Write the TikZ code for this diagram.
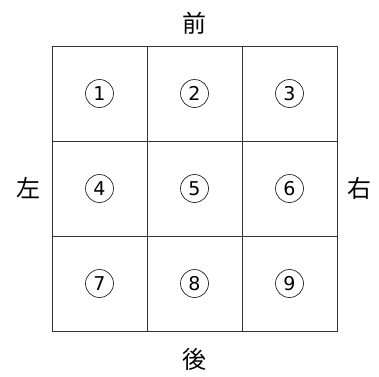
\documentclass[tikz,border=0pt]{standalone}
\usepackage{fontspec}
\setsansfont{DejaVu Sans}
\newfontfamily\cjk{Noto Sans CJK JP}
\usetikzlibrary{positioning}

\begin{document}
\begin{tikzpicture}[x=1pt, y=-1pt, cell/.style = {shape=rectangle, draw=black!80, line width=1pt, minimum size=95pt, inner sep=0pt}, num/.style = {shape=circle, draw=black!85, line width=0.7pt, minimum size=28pt, inner sep=0pt, font=\sffamily\fontsize{19}{19}\selectfont}, side/.style = {inner sep=0pt, font=\cjk\fontsize{24}{24}\selectfont}]
    \useasboundingbox (0,0) rectangle (379,376);
    % the nine cells
    \foreach \n in {1,...,9}{
        \pgfmathtruncatemacro\col{mod(\n-1,3)}
        \pgfmathtruncatemacro\row{(\n-1)/3}
        \node[cell] (c\n) at ({99.5+95*\col},{93.5+95*\row}) {};
        \node[num] (n\n) at (c\n) {\n};
    }
    % directions
    \node[side, above=11pt of c2] (front) {前};
    \node[side, below=17pt of c8] (back) {後};
    \node[side, left=10.5pt of c4] (left) {左};
    \node[side, right=9.5pt of c6] (right) {右};
\end{tikzpicture}
\end{document}
